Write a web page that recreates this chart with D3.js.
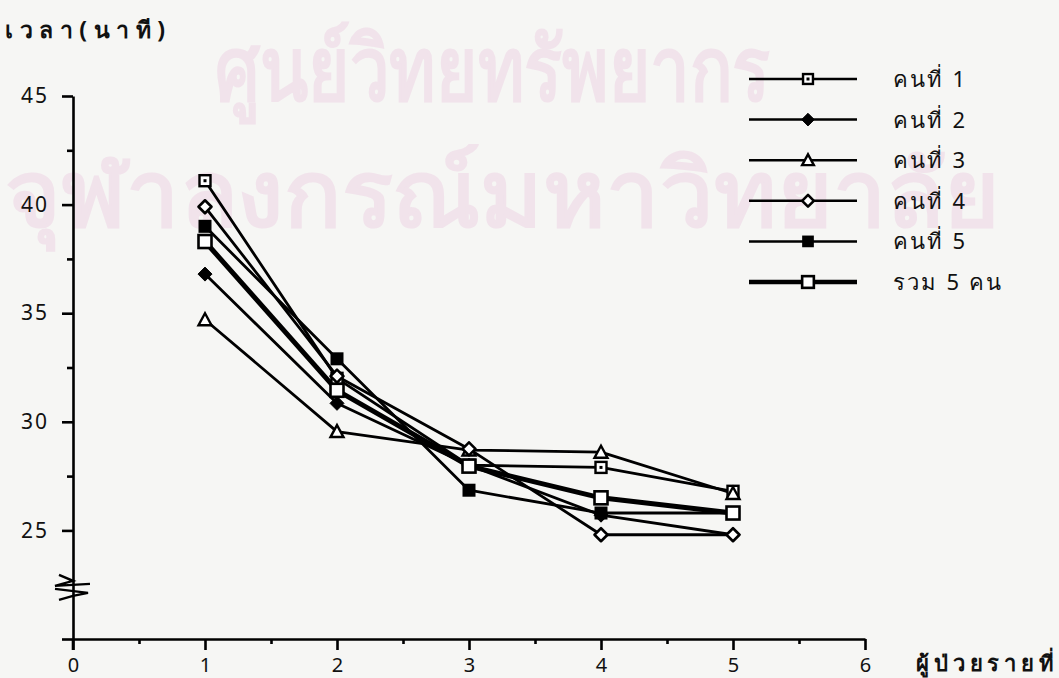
<!DOCTYPE html>
<html>
<head>
<meta charset="utf-8">
<script src="https://cdn.jsdelivr.net/npm/d3@7"></script>
<style>
  html, body { margin: 0; padding: 0; background: #f6f6f4; }
  svg { display: block; }
  text { font-family: "Noto Sans", "DejaVu Sans", sans-serif; }
</style>
</head>
<body>
<svg id="chart" width="1059" height="678"></svg>
<script>
// ---- data ----
const patients = [1, 2, 3, 4, 5];
const seriesNames = ["คนที่ 1", "คนที่ 2", "คนที่ 3", "คนที่ 4", "คนที่ 5", "รวม 5 คน"];
const person1 = [41.1, 32.0, 28.0, 27.9, 26.8];
const person2 = [36.8, 30.85, 28.0, 25.7, 24.8];
const person3 = [34.7, 29.55, 28.7, 28.6, 26.7];
const person4 = [39.9, 32.1, 28.75, 24.8, 24.8];
const person5 = [39.0, 32.9, 26.85, 25.8, 25.8];
const total5 = [38.3, 31.45, 27.96, 26.5, 25.8];
const yMajorTicks = [25, 30, 35, 40, 45];
const yMinorTicks = [27.5, 32.5, 37.5, 42.5];
const xMajorTicks = [0, 1, 2, 3, 4, 5, 6];
const xMinorTicks = [0.5, 1.5, 2.5, 3.5, 4.5, 5.5];
const yTitle = "เวลา(นาที)";
const xTitle = "ผู้ป่วยรายที่";
const watermark1 = "ศูนย์วิทยทรัพยากร";
const watermark2 = "จุฬาลงกรณ์มหาวิทยาลัย";

const allSeries = [person1, person2, person3, person4, person5, total5];
const markerTypes = ["squareDot", "diamondFilled", "triangle", "diamondOpen", "squareFilled", "squareOpen"];

const svg = d3.select("#chart");
const x = d3.scaleLinear().domain([0, 6]).range([73, 865]);
const y = d3.scaleLinear().domain([20, 45]).range([639, 96]);

// watermark
const wm = svg.append("g").attr("fill", "#f1e3eb").attr("stroke", "#f1e3eb").attr("stroke-width", 3);
wm.append("text").attr("x", 215).attr("y", 100)
  .attr("font-size", 88).attr("textLength", 555).attr("lengthAdjust", "spacingAndGlyphs").text(watermark1);
wm.append("text").attr("x", 5).attr("y", 226)
  .attr("font-size", 92).attr("textLength", 995).attr("lengthAdjust", "spacingAndGlyphs").text(watermark2);

// axes
const gY = svg.append("g").attr("transform", `translate(${x(0)},0)`);
gY.call(d3.axisLeft(y).tickValues([20].concat(yMajorTicks)).tickSize(11).tickSizeOuter(0)
  .tickFormat(d => d === 20 ? "" : d));
gY.append("g").call(d3.axisLeft(y).tickValues(yMinorTicks).tickSize(6).tickFormat(""))
  .select(".domain").remove();
gY.selectAll("path, line").attr("stroke", "#000").attr("stroke-width", 2.6);
gY.selectAll("text").attr("font-size", 21).attr("fill", "#111").attr("x", -24)
  .attr("letter-spacing", 2).attr("font-family", "DejaVu Sans, sans-serif");
// extend y axis line slightly below x axis
gY.append("line").attr("x1", 0).attr("x2", 0).attr("y1", y(20)).attr("y2", y(20) + 11)
  .attr("stroke", "#000").attr("stroke-width", 2.6);

const gX = svg.append("g").attr("transform", `translate(0,${y(20)})`);
gX.call(d3.axisBottom(x).tickValues(xMajorTicks).tickSize(11).tickSizeOuter(0).tickFormat(d3.format("d")));
gX.append("g").call(d3.axisBottom(x).tickValues(xMinorTicks).tickSize(5).tickFormat(""))
  .select(".domain").remove();
gX.selectAll("path, line").attr("stroke", "#000").attr("stroke-width", 2.6);
gX.selectAll("text").attr("font-size", 20).attr("fill", "#111").attr("y", 19)
  .attr("font-family", "DejaVu Sans, sans-serif");

// axis break symbol
const br = svg.append("g").attr("fill", "none").attr("stroke", "#000").attr("stroke-width", 2.4)
  .attr("stroke-linejoin", "miter");
const bx = x(0), by = y(22.4);
br.append("path").attr("d", `M${bx-14},${by-12} L${bx},${by-6} L${bx-18},${by-1} L${bx+17},${by-3}`);
br.append("path").attr("d", `M${bx-18},${by+2} L${bx+15},${by+6} L${bx},${by+9} L${bx-14},${by+13}`);

// titles
svg.append("text").attr("x", 5).attr("y", 38).attr("font-size", 23).attr("font-weight", "bold")
  .attr("fill", "#111").attr("textLength", 160).attr("lengthAdjust", "spacing").text(yTitle);
svg.append("text").attr("x", 916).attr("y", 671).attr("font-size", 22).attr("font-weight", "bold")
  .attr("fill", "#111").attr("textLength", 138).attr("lengthAdjust", "spacing").text(xTitle);

// markers
function drawMarker(g, type, cx, cy, scale) {
  const s = scale || 1;
  if (type === "squareDot") {
    g.append("rect").attr("x", cx - 5.5*s).attr("y", cy - 5.5*s).attr("width", 11*s).attr("height", 11*s)
      .attr("fill", "#fff").attr("stroke", "#000").attr("stroke-width", 2.4);
    g.append("rect").attr("x", cx - 1.5).attr("y", cy - 1.5).attr("width", 3).attr("height", 3).attr("fill", "#000");
  } else if (type === "diamondFilled") {
    g.append("path").attr("d", `M${cx},${cy-7*s} L${cx+7*s},${cy} L${cx},${cy+7*s} L${cx-7*s},${cy} Z`)
      .attr("fill", "#000").attr("stroke", "#000").attr("stroke-width", 1);
  } else if (type === "triangle") {
    g.append("path").attr("d", `M${cx},${cy-6.5*s} L${cx+6.5*s},${cy+5.5*s} L${cx-6.5*s},${cy+5.5*s} Z`)
      .attr("fill", "#fff").attr("stroke", "#000").attr("stroke-width", 2.4);
  } else if (type === "diamondOpen") {
    g.append("path").attr("d", `M${cx},${cy-6.5*s} L${cx+6.5*s},${cy} L${cx},${cy+6.5*s} L${cx-6.5*s},${cy} Z`)
      .attr("fill", "#fff").attr("stroke", "#000").attr("stroke-width", 2.6).attr("stroke-linejoin", "round");
  } else if (type === "squareFilled") {
    g.append("rect").attr("x", cx - 6.5*s).attr("y", cy - 6.5*s).attr("width", 13*s).attr("height", 13*s).attr("fill", "#000");
  } else if (type === "squareOpen") {
    g.append("rect").attr("x", cx - 6.5*s).attr("y", cy - 6.5*s).attr("width", 13*s).attr("height", 13*s)
      .attr("fill", "#fff").attr("stroke", "#000").attr("stroke-width", 2.6);
  }
}

const line = d3.line().x((d, i) => x(patients[i])).y(d => y(d));
const linesG = svg.append("g");
allSeries.forEach((vals, k) => {
  linesG.append("path").datum(vals).attr("d", line).attr("fill", "none").attr("stroke", "#000")
    .attr("stroke-width", k === 5 ? 5 : 2.8).attr("stroke-linejoin", "round");
});
const markersG = svg.append("g");
allSeries.forEach((vals, k) => {
  vals.forEach((v, i) => drawMarker(markersG, markerTypes[k], x(patients[i]), y(v)));
});

// legend
const legend = svg.append("g");
seriesNames.forEach((name, k) => {
  const ly = 79 + k * 40.6;
  legend.append("line").attr("x1", 749).attr("x2", 857).attr("y1", ly).attr("y2", ly)
    .attr("stroke", "#000").attr("stroke-width", k === 5 ? 4.5 : 2.5);
  drawMarker(legend, markerTypes[k], 808, ly, 0.9);
  legend.append("text").attr("x", 893).attr("y", ly + 8).attr("font-size", 22)
    .attr("letter-spacing", 2.2).attr("fill", "#111").text(name);
});
</script>
</body>
</html>
